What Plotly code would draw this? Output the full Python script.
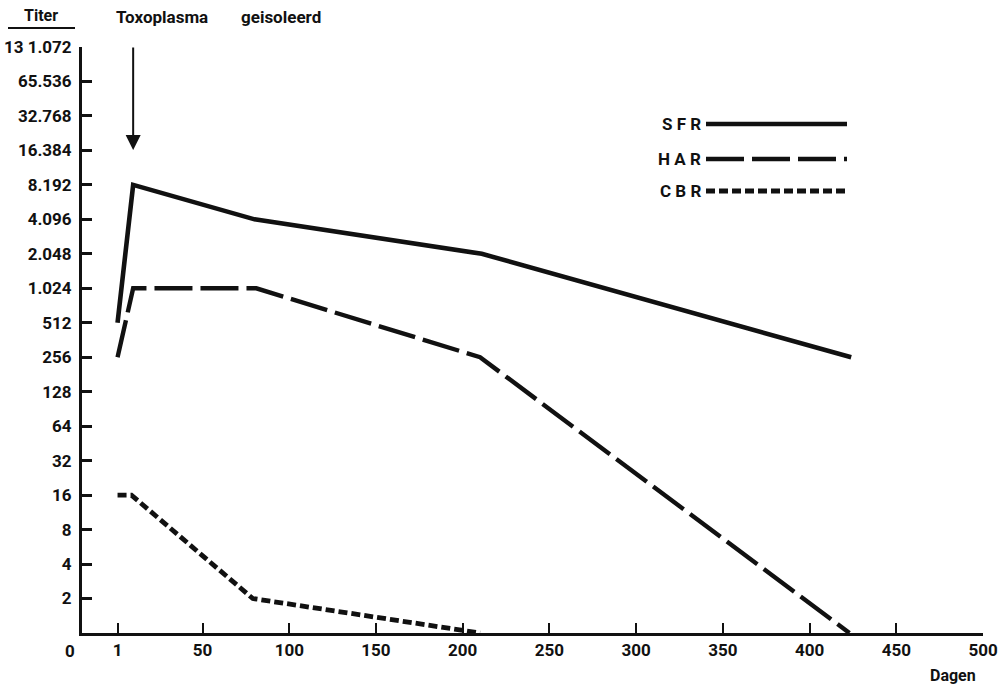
import plotly.graph_objects as go

# ---- data ----
days_sfr = [1, 10, 80, 211, 424]
titer_sfr = [512, 8192, 4096, 2048, 256]
days_har = [1, 10, 81, 210, 423]
titer_har = [256, 1024, 1024, 256, 1]
days_cbr = [1, 9, 79, 210]
titer_cbr = [16, 16, 2, 1]

x_tickvals = [1, 50, 100, 150, 200, 250, 300, 350, 400, 450, 500]
x_ticktext = ["1", "50", "100", "150", "200", "250", "300", "350", "400", "450", "500"]
y_tickvals = [2, 4, 8, 16, 32, 64, 128, 256, 512, 1024, 2048, 4096, 8192,
              16384, 32768, 65536, 131072]
y_ticktext = ["2", "4", "8", "16", "32", "64", "128", "256", "512", "1.024", "2.048",
              "4.096", "8.192", "16.384", "32.768", "65.536", "13 1.072"]
series_names = ["SFR", "HAR", "CBR"]
arrow_day = 10

FONT = "Roboto"
BLACK = "#111111"

fig = go.Figure()
fig.add_trace(go.Scatter(x=days_sfr, y=titer_sfr, mode="lines", name=series_names[0],
                         line=dict(color=BLACK, width=4.6)))
fig.add_trace(go.Scatter(x=days_har, y=titer_har, mode="lines", name=series_names[1],
                         line=dict(color=BLACK, width=4.4, dash="38px,8px")))
fig.add_trace(go.Scatter(x=days_cbr, y=titer_cbr, mode="lines", name=series_names[2],
                         line=dict(color=BLACK, width=4.8, dash="9px,4px")))

W, H = 1007, 687
# plot-area edges in page pixels
PL, PR, PT, PB = 82, 983, 47, 633
L, R, T, B = PL, W - PR, PT, H - PB
pw, ph = PR - PL, PB - PT

def px_x(p):
    return (p - PL) / pw

def px_y(p):
    return (PB - p) / ph

TF = dict(family=FONT, size=17, weight="bold")

fig.update_layout(
    width=W, height=H,
    margin=dict(l=L, r=R, t=T, b=B, autoexpand=False),
    paper_bgcolor="white", plot_bgcolor="white",
    showlegend=False,
    font=dict(family=FONT, size=16, color=BLACK, weight="bold"),
    xaxis=dict(range=[-19.5, 500], tickvals=x_tickvals, ticktext=x_ticktext,
               showgrid=False, zeroline=False, showline=True, linecolor=BLACK,
               linewidth=3, ticks="inside", ticklen=10, tickwidth=2, tickcolor=BLACK,
               tickfont=TF, mirror=False, automargin=False),
    yaxis=dict(type="log", range=[0, 5.1175], tickvals=y_tickvals, ticktext=y_ticktext,
               showgrid=False, zeroline=False, showline=True, linecolor=BLACK,
               linewidth=3, ticks="inside", ticklen=10, tickwidth=2.5, tickcolor=BLACK,
               tickfont=TF, ticklabelstandoff=4, automargin=False),
)

ann = []
ann.append(dict(text="0", xref="paper", yref="paper", x=px_x(70), y=px_y(651),
                showarrow=False, xanchor="center", yanchor="middle", font=TF))
ann.append(dict(text="Dagen", xref="paper", yref="paper", x=px_x(953), y=px_y(675),
                showarrow=False, xanchor="center", yanchor="middle",
                font=dict(family=FONT, size=16, weight="bold")))
ann.append(dict(text="Titer", xref="paper", yref="paper", x=px_x(41), y=px_y(16),
                showarrow=False, xanchor="center", yanchor="middle",
                font=dict(family=FONT, size=16, weight="bold")))
ann.append(dict(text="Toxoplasma", xref="paper", yref="paper",
                x=px_x(114), y=px_y(17), showarrow=False, xanchor="left", yanchor="middle",
                font=dict(family=FONT, size=17, weight="bold")))
ann.append(dict(text="geisoleerd", xref="paper", yref="paper",
                x=px_x(239), y=px_y(17), showarrow=False, xanchor="left", yanchor="middle",
                font=dict(family=FONT, size=17, weight="bold")))
ann.append(dict(text="", xref="x", yref="paper", x=arrow_day, y=px_y(150),
                ax=0, ay=-104, showarrow=True, arrowhead=2, arrowsize=1.5,
                arrowwidth=2, arrowcolor=BLACK))

legend_y = [124, 159, 191]
legend_dash = ["solid", "38px,8px", "9px,4px"]
legend_w = [4.6, 4.4, 4.8]
shapes = []
for name, yy, dsh, lw in zip(series_names, legend_y, legend_dash, legend_w):
    ann.append(dict(text=" ".join(name), xref="paper", yref="paper", x=px_x(703),
                    y=px_y(yy), showarrow=False, xanchor="right", yanchor="middle",
                    font=dict(family=FONT, size=17, weight="bold")))
    shapes.append(dict(type="line", xref="paper", yref="paper", x0=px_x(706), x1=px_x(847),
                       y0=px_y(yy), y1=px_y(yy), line=dict(color=BLACK, width=lw, dash=dsh)))
shapes.append(dict(type="line", xref="paper", yref="paper", x0=px_x(8), x1=px_x(75),
                   y0=px_y(28), y1=px_y(28), line=dict(color=BLACK, width=2)))

fig.update_layout(annotations=ann, shapes=shapes)
fig.write_html("out.html", config={"displayModeBar": False},
               post_script="document.body.style.margin='0';document.body.style.overflow='hidden';")
